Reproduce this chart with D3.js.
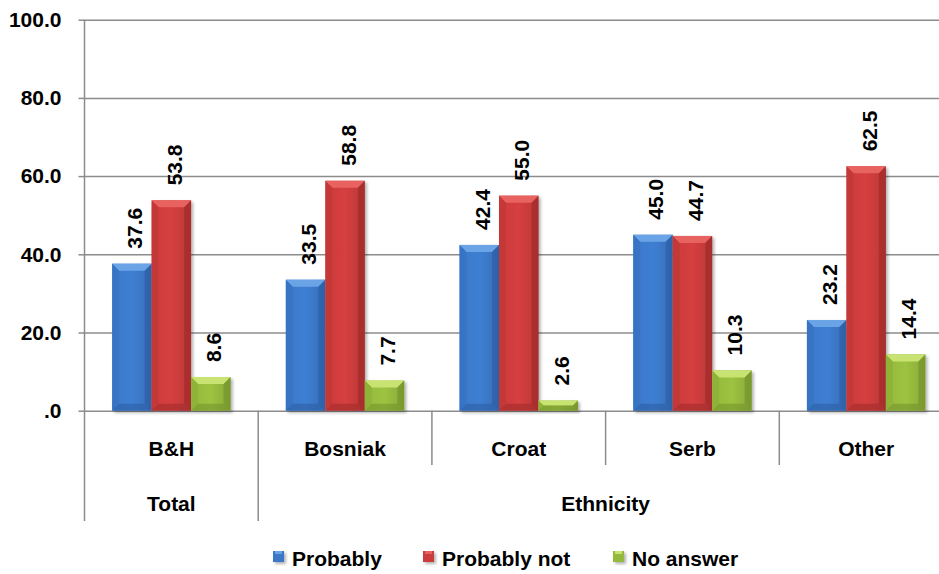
<!DOCTYPE html>
<html>
<head>
<meta charset="utf-8">
<script src="https://cdn.jsdelivr.net/npm/d3@7"></script>
<style>
  html, body { margin: 0; padding: 0; background: #fff; }
  svg { display: block; font-family: "Liberation Sans", Arial, sans-serif; font-weight: bold; }
</style>
</head>
<body>
<svg id="chart" width="939" height="574"></svg>
<script>
// Survey answers by group (percent)
const categories = ["B&H", "Bosniak", "Croat", "Serb", "Other"];
const groupLabels = ["Total", "Ethnicity"];
const groupSizes = [1, 4];
const seriesNames = ["Probably", "Probably not", "No answer"];
const probably = [37.6, 33.5, 42.4, 45.0, 23.2];
const probablyNot = [53.8, 58.8, 55.0, 44.7, 62.5];
const noAnswer = [8.6, 7.7, 2.6, 10.3, 14.4];
const yTicks = [0, 20, 40, 60, 80, 100];
const yTickLabels = [".0", "20.0", "40.0", "60.0", "80.0", "100.0"];

const seriesValues = [probably, probablyNot, noAnswer];
// face / light bevel / dark bevel per series
const palette = [
  { face: "#3b78c8", hi: "#6aa3e6", mid: "#3470bf", lo: "#2a5a9e" },
  { face: "#cb3c3c", hi: "#e8625f", mid: "#c03535", lo: "#992828" },
  { face: "#95b93d", hi: "#c8e372", mid: "#8aad35", lo: "#6e8c28" }
];

const svg = d3.select("#chart");
const plotLeft = 84.5, plotRight = 953, plotTop = 19.7, plotBottom = 410.7;
const grid = "#8c8c8c";

const y = d3.scaleLinear().domain([0, 100]).range([plotBottom, plotTop]);
const x0 = d3.scaleBand().domain(categories).range([plotLeft, plotRight])
  .paddingInner(0.318).paddingOuter(0.159);
const x1 = d3.scaleBand().domain(seriesNames).range([0, x0.bandwidth()]);

const defs = svg.append("defs");
const shadow = defs.append("filter").attr("id", "shadow")
  .attr("x", "-20%").attr("y", "-20%").attr("width", "150%").attr("height", "150%");
shadow.append("feDropShadow").attr("dx", 2).attr("dy", 2).attr("stdDeviation", 1.6)
  .attr("flood-color", "#000").attr("flood-opacity", 0.3);

palette.forEach((p, i) => {
  const g = defs.append("linearGradient").attr("id", "face" + i)
    .attr("x1", "0").attr("x2", "1").attr("y1", "0").attr("y2", "0");
  g.append("stop").attr("offset", "0").attr("stop-color", p.face);
  g.append("stop").attr("offset", "0.5").attr("stop-color", d3.color(p.face).brighter(0.15));
  g.append("stop").attr("offset", "1").attr("stop-color", d3.color(p.face).darker(0.25));
});

// Y axis: gridlines, ticks and labels
const yAxis = svg.append("g").attr("transform", `translate(${plotLeft},0)`)
  .call(d3.axisLeft(y).tickValues(yTicks)
    .tickFormat((d, i) => yTickLabels[i])
    .tickSize(6).tickPadding(17));
yAxis.select(".domain").remove();
yAxis.selectAll(".tick line").attr("stroke", grid).attr("stroke-width", 1.5);
yAxis.selectAll(".tick text").attr("fill", "#000").attr("font-size", 21)
  .attr("font-weight", "bold").attr("font-family", "Liberation Sans, Arial, sans-serif");
yAxis.selectAll(".tick").append("line")
  .attr("x1", 0).attr("x2", plotRight - plotLeft)
  .attr("stroke", grid).attr("stroke-width", 1.5);

// Bars with bevelled edges
const bars = svg.append("g");
categories.forEach((cat, ci) => {
  seriesNames.forEach((s, si) => {
    const v = seriesValues[si][ci];
    const bx = x0(cat) + x1(s), bw = x1.bandwidth();
    const by = y(v), bh = y(0) - y(v);
    const b = Math.min(7, bh / 2);
    const p = palette[si];
    const g = bars.append("g").attr("filter", "url(#shadow)");
    g.append("rect").attr("x", bx).attr("y", by).attr("width", bw).attr("height", bh)
      .attr("fill", `url(#face${si})`);
    const poly = pts => g.append("polygon").attr("points", pts.map(q => q.join(",")).join(" "));
    poly([[bx, by], [bx + bw, by], [bx + bw - b, by + b], [bx + b, by + b]]).attr("fill", p.hi);
    poly([[bx, by], [bx + b, by + b], [bx + b, by + bh - b], [bx, by + bh]]).attr("fill", p.mid).attr("opacity", 0.6);
    poly([[bx + bw, by], [bx + bw, by + bh], [bx + bw - b, by + bh - b], [bx + bw - b, by + b]]).attr("fill", p.lo).attr("opacity", 0.55);
    poly([[bx, by + bh], [bx + b, by + bh - b], [bx + bw - b, by + bh - b], [bx + bw, by + bh]]).attr("fill", p.lo).attr("opacity", 0.5);

    // Value label, rotated, above the bar
    svg.append("text")
      .attr("transform", `translate(${bx + bw / 2},${by - 15}) rotate(-90)`)
      .attr("dy", "0.5em").attr("text-anchor", "start")
      .attr("font-size", 21).attr("fill", "#000")
      .text(v.toFixed(1));
  });
});

// Left axis line
svg.append("line").attr("x1", plotLeft).attr("x2", plotLeft).attr("y1", plotTop).attr("y2", 521)
  .attr("stroke", grid).attr("stroke-width", 1.5);

// Category dividers (short) and group dividers (long)
const step = x0.step();
const groupEdges = [0];
groupSizes.reduce((acc, n) => { groupEdges.push(acc + n); return acc + n; }, 0);
for (let i = 1; i <= categories.length; i++) {
  const xx = plotLeft + i * step;
  const long = groupEdges.includes(i);
  svg.append("line").attr("x1", xx).attr("x2", xx).attr("y1", plotBottom).attr("y2", long ? 521 : 465)
    .attr("stroke", grid).attr("stroke-width", 1.5);
}

// Category labels
svg.append("g").selectAll("text").data(categories).join("text")
  .attr("x", d => x0(d) + x0.bandwidth() / 2).attr("y", 456)
  .attr("text-anchor", "middle").attr("font-size", 21).attr("fill", "#000")
  .text(d => d);

// Group labels
groupLabels.forEach((g, i) => {
  const x = plotLeft + (groupEdges[i] + groupEdges[i + 1]) / 2 * step;
  svg.append("text").attr("x", x).attr("y", 511)
    .attr("text-anchor", "middle").attr("font-size", 21).attr("fill", "#000").text(g);
});

// Legend
const legendX = [273, 423, 613];
const legend = svg.append("g");
seriesNames.forEach((s, i) => {
  const p = palette[i];
  legend.append("rect").attr("x", legendX[i]).attr("y", 551).attr("width", 11).attr("height", 11)
    .attr("fill", p.face).attr("filter", "url(#shadow)");
  legend.append("rect").attr("x", legendX[i] + 2).attr("y", 551).attr("width", 7).attr("height", 3)
    .attr("fill", p.hi);
  legend.append("text").attr("x", legendX[i] + 19).attr("y", 566)
    .attr("font-size", 21).attr("fill", "#000").text(s);
});
</script>
</body>
</html>
